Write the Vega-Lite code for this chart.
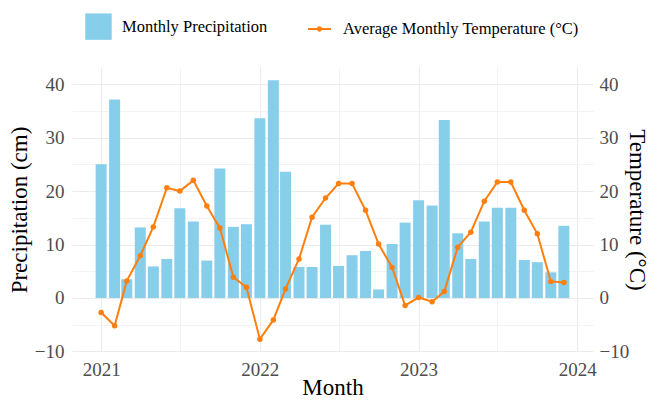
{
  "$schema": "https://vega.github.io/schema/vega-lite/v6.json",
  "width": 521,
  "height": 285,
  "autosize": {"type": "none"},
  "padding": {"left": 72, "top": 67, "right": 57, "bottom": 48},
  "background": "white",
  "config": {
    "view": {"stroke": null},
    "font": "Liberation Serif",
    "axis": {
      "domain": false,
      "ticks": false,
      "labelFont": "Liberation Serif",
      "labelFontSize": 19,
      "labelColor": "#4d4d4d",
      "titleFont": "Liberation Serif",
      "titleFontSize": 23,
      "titleFontWeight": "normal",
      "titleColor": "#000000",
      "gridColor": "#ebebeb"
    },
    "legend": {
      "orient": "none",
      "direction": "horizontal",
      "legendX": 13,
      "legendY": -54,
      "padding": 0,
      "title": null,
      "labelFont": "Liberation Serif",
      "labelFontSize": 16.5,
      "labelColor": "#000000",
      "labelLimit": 0,
      "labelOffset": 10,
      "columnPadding": 38,
      "symbolSize": 700
    }
  },
  "data": {
    "values": [
      {"month": "2021-01-01", "precip": 25.0, "temp": -2.7},
      {"month": "2021-02-01", "precip": 37.1, "temp": -5.2},
      {"month": "2021-03-01", "precip": 3.5, "temp": 3.2},
      {"month": "2021-04-01", "precip": 13.2, "temp": 7.9},
      {"month": "2021-05-01", "precip": 5.9, "temp": 13.3},
      {"month": "2021-06-01", "precip": 7.3, "temp": 20.6},
      {"month": "2021-07-01", "precip": 16.8, "temp": 20.0},
      {"month": "2021-08-01", "precip": 14.3, "temp": 22.0},
      {"month": "2021-09-01", "precip": 7.0, "temp": 17.2},
      {"month": "2021-10-01", "precip": 24.2, "temp": 13.1},
      {"month": "2021-11-01", "precip": 13.3, "temp": 3.9},
      {"month": "2021-12-01", "precip": 13.8, "temp": 2.0},
      {"month": "2022-01-01", "precip": 33.6, "temp": -7.7},
      {"month": "2022-02-01", "precip": 40.7, "temp": -4.1},
      {"month": "2022-03-01", "precip": 23.6, "temp": 1.7},
      {"month": "2022-04-01", "precip": 5.8, "temp": 7.3},
      {"month": "2022-05-01", "precip": 5.8, "temp": 15.1},
      {"month": "2022-06-01", "precip": 13.7, "temp": 18.7},
      {"month": "2022-07-01", "precip": 6.0, "temp": 21.4},
      {"month": "2022-08-01", "precip": 8.0, "temp": 21.4},
      {"month": "2022-09-01", "precip": 8.8, "temp": 16.4},
      {"month": "2022-10-01", "precip": 1.6, "temp": 10.1},
      {"month": "2022-11-01", "precip": 10.1, "temp": 5.7},
      {"month": "2022-12-01", "precip": 14.1, "temp": -1.4},
      {"month": "2023-01-01", "precip": 18.3, "temp": 0.1},
      {"month": "2023-02-01", "precip": 17.3, "temp": -0.7},
      {"month": "2023-03-01", "precip": 33.3, "temp": 1.2},
      {"month": "2023-04-01", "precip": 12.1, "temp": 9.5},
      {"month": "2023-05-01", "precip": 7.3, "temp": 12.3},
      {"month": "2023-06-01", "precip": 14.3, "temp": 18.1},
      {"month": "2023-07-01", "precip": 16.9, "temp": 21.7},
      {"month": "2023-08-01", "precip": 16.9, "temp": 21.7},
      {"month": "2023-09-01", "precip": 7.1, "temp": 16.4},
      {"month": "2023-10-01", "precip": 6.7, "temp": 12.0},
      {"month": "2023-11-01", "precip": 4.8, "temp": 3.1},
      {"month": "2023-12-01", "precip": 13.5, "temp": 2.9}
    ]
  },
  "encoding": {
    "x": {
      "field": "month",
      "type": "temporal",
      "title": "Month",
      "scale": {
        "type": "utc",
        "nice": false,
        "padding": 0,
        "domain": [
          {"year": 2020, "month": "oct", "date": 26, "utc": true},
          {"year": 2024, "month": "feb", "date": 6, "utc": true}
        ]
      },
      "axis": {
        "values": [
          {"year": 2021, "month": "jan", "date": 1, "utc": true},
          {"year": 2021, "month": "jul", "date": 1, "utc": true},
          {"year": 2022, "month": "jan", "date": 1, "utc": true},
          {"year": 2022, "month": "jul", "date": 1, "utc": true},
          {"year": 2023, "month": "jan", "date": 1, "utc": true},
          {"year": 2023, "month": "jul", "date": 1, "utc": true},
          {"year": 2024, "month": "jan", "date": 1, "utc": true}
        ],
        "labelExpr": "utcmonth(datum.value) === 0 ? utcFormat(datum.value, '%Y') : ''",
        "labelFont": "Liberation Serif",
        "titleFont": "Liberation Serif",
        "labelPadding": 8,
        "titlePadding": -3,
        "grid": true,
        "gridWidth": {"condition": {"test": "utcmonth(datum.value) === 0", "value": 1.1}, "value": 0.6}
      }
    }
  },
  "layer": [
    {
      "mark": {"type": "bar", "width": 11},
      "encoding": {
        "y": {
          "field": "precip",
          "type": "quantitative",
          "title": "Precipitation (cm)",
          "scale": {"domain": [-10.1, 43.2], "nice": false, "zero": false},
          "axis": {
            "orient": "left",
            "values": [-10, -5, 0, 5, 10, 15, 20, 25, 30, 35, 40],
            "format": "d",
            "labelExpr": "datum.value % 10 === 0 ? datum.label : ''",
            "labelFont": "Liberation Serif",
            "titleFont": "Liberation Serif",
            "labelPadding": 8,
            "titlePadding": 3,
            "grid": true,
            "gridWidth": {"condition": {"test": "datum.value % 10 === 0", "value": 1.1}, "value": 0.6}
          }
        },
        "color": {
          "datum": "Monthly Precipitation",
          "type": "nominal",
          "scale": {
            "domain": ["Monthly Precipitation", "Average Monthly Temperature (°C)"],
            "range": ["#87ceeb", "#ff7f0e"]
          },
          "legend": {
            "encode": {
              "symbols": {
                "update": {
                  "shape": {"signal": "datum.value === 'Monthly Precipitation' ? 'square' : 'M-0.87,-0.075H-0.18V0.075H-0.87Z M0.18,-0.075H0.87V0.075H0.18Z M-0.2,0A0.2,0.2 0 1,1 0.2,0A0.2,0.2 0 1,1 -0.2,0Z'"},
                  "fill": {"scale": "color", "field": "value"},
                  "stroke": {"value": "transparent"},
                  "strokeWidth": {"value": 0},
                  "opacity": {"value": 1},
                  "fillOpacity": {"value": 1}
                }
              }
            }
          }
        }
      }
    },
    {
      "mark": {"type": "line", "strokeWidth": 2, "point": {"filled": true, "size": 30}},
      "encoding": {
        "y": {
          "field": "temp",
          "type": "quantitative",
          "title": "Temperature (°C)",
          "scale": {"domain": [-10.1, 43.2], "nice": false, "zero": false},
          "axis": {
            "orient": "right",
            "values": [-10, 0, 10, 20, 30, 40],
            "format": "d",
            "labelFont": "Liberation Serif",
            "titleFont": "Liberation Serif",
            "labelPadding": 6,
            "titlePadding": -4,
            "titleAngle": 90,
            "grid": false
          }
        },
        "color": {"datum": "Average Monthly Temperature (°C)", "type": "nominal"}
      }
    }
  ],
  "resolve": {"scale": {"y": "independent"}}
}
